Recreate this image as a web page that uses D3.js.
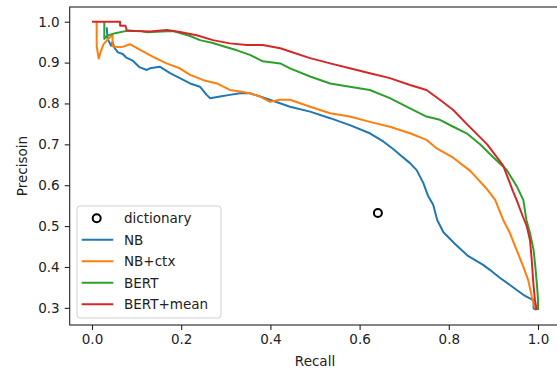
<!DOCTYPE html>
<html lang="en">
  <head>
    <meta charset="utf-8">
    <title>Precision Recall</title>
    <script src="https://d3js.org/d3.v7.min.js"></script>
    <style>
      body { margin: 0; background: #fff; }
      svg { display: block; font-family: "DejaVu Sans", sans-serif; }
    </style>
  </head>
  <body>
    <script>
    // values, [recall, precision]
    const nb = [[0.033,0.986],[0.035,0.958],[0.043,0.941],[0.046,0.95],[0.05,0.937],[0.058,0.925],[0.069,0.921],
      [0.076,0.913],[0.091,0.905],[0.106,0.889],[0.123,0.882],[0.13,0.886],[0.152,0.89],[0.175,0.874],[0.197,0.862],
      [0.22,0.849],[0.242,0.841],[0.257,0.821],[0.265,0.813],[0.287,0.817],[0.309,0.821],[0.332,0.825],[0.354,0.825],
      [0.377,0.817],[0.407,0.806],[0.444,0.792],[0.489,0.78],[0.534,0.764],[0.578,0.747],[0.623,0.727],[0.653,0.707],
      [0.676,0.688],[0.691,0.674],[0.713,0.654],[0.728,0.637],[0.743,0.605],[0.753,0.575],[0.765,0.552],[0.774,0.515],
      [0.788,0.485],[0.814,0.456],[0.843,0.427],[0.877,0.405],[0.892,0.393],[0.915,0.373],[0.937,0.356],[0.967,0.332],
      [0.99,0.318],[0.99,0.299],[0.997,0.295]]
    const nbCtx = [[0.0105,1.0],[0.0105,0.94],[0.015,0.91],[0.02,0.928],[0.026,0.945],[0.034,0.955],[0.046,0.968],
      [0.046,0.94],[0.058,0.938],[0.07,0.939],[0.085,0.945],[0.108,0.931],[0.137,0.914],[0.167,0.898],[0.197,0.886],
      [0.22,0.87],[0.25,0.857],[0.28,0.849],[0.309,0.833],[0.332,0.829],[0.354,0.825],[0.377,0.817],[0.399,0.804],
      [0.422,0.809],[0.444,0.809],[0.489,0.792],[0.534,0.776],[0.578,0.768],[0.623,0.755],[0.668,0.743],[0.713,0.727],
      [0.75,0.711],[0.773,0.69],[0.809,0.668],[0.848,0.635],[0.886,0.59],[0.904,0.564],[0.922,0.515],[0.937,0.483],
      [0.952,0.442],[0.967,0.401],[0.978,0.368],[0.986,0.328],[0.993,0.299]]
    const bert = [[0.0276,1.0],[0.0276,0.958],[0.034,0.966],[0.052,0.972],[0.075,0.977],[0.11,0.977],[0.123,0.974],
      [0.182,0.977],[0.22,0.965],[0.242,0.955],[0.271,0.948],[0.3,0.938],[0.325,0.93],[0.354,0.919],[0.383,0.903],
      [0.422,0.898],[0.444,0.886],[0.489,0.866],[0.534,0.849],[0.578,0.841],[0.623,0.833],[0.668,0.813],[0.713,0.788],
      [0.75,0.768],[0.78,0.76],[0.81,0.743],[0.84,0.727],[0.87,0.7],[0.899,0.669],[0.93,0.637],[0.953,0.596],
      [0.967,0.564],[0.974,0.515],[0.982,0.483],[0.99,0.442],[0.994,0.401],[0.998,0.352],[1.0,0.32],[1.0,0.295]]
    const bertMean = [[0,1.0],[0.063,1.0],[0.063,0.99],[0.075,0.99],[0.078,0.979],[0.096,0.977],[0.13,0.976],
      [0.168,0.98],[0.197,0.975],[0.235,0.967],[0.271,0.955],[0.309,0.947],[0.347,0.943],[0.383,0.943],[0.422,0.935],
      [0.444,0.927],[0.489,0.911],[0.534,0.898],[0.578,0.886],[0.623,0.874],[0.668,0.862],[0.713,0.845],[0.75,0.833],
      [0.78,0.809],[0.81,0.784],[0.84,0.75],[0.886,0.7],[0.922,0.648],[0.944,0.585],[0.952,0.564],[0.963,0.532],
      [0.975,0.499],[0.982,0.466],[0.986,0.417],[0.989,0.368],[0.993,0.32],[0.997,0.295]]
    const dictionary = [[0.641, 0.532]]

    const seriesNames = ["NB", "NB+ctx", "BERT", "BERT+mean"]
    const seriesData = [nb, nbCtx, bert, bertMean]
    const seriesColors = ["#1f77b4", "#ff7f0e", "#2ca02c", "#d62728"]
    const xTicks = [0, 0.2, 0.4, 0.6, 0.8, 1.0]
    const yTicks = [0.3, 0.4, 0.5, 0.6, 0.7, 0.8, 0.9, 1.0]

    const measurements = {
      width: 557,
      height: 370,
      left: 69.7,
      right: 560.3,
      top: 7,
      bottom: 325
    }

    const svgContainer = d3.select('body').append('svg')
      .attr('width', measurements.width)
      .attr('height', measurements.height)

    const scaleX = d3.scaleLinear()
      .domain([-0.05, 1.05])
      .range([measurements.left, measurements.right])

    const scaleY = d3.scaleLinear()
      .domain([0.258, 1.036])
      .range([measurements.bottom, measurements.top])

    const line = d3.line()
      .x(d => scaleX(d[0]))
      .y(d => scaleY(d[1]))

    // curves
    seriesData.forEach((data, i) => {
      svgContainer.append('path')
        .datum(data)
        .attr('d', line)
        .attr('fill', 'none')
        .attr('stroke', seriesColors[i])
        .attr('stroke-width', 2)
        .attr('stroke-linejoin', 'round')
    })

    svgContainer.selectAll('.dict')
      .data(dictionary)
      .enter()
      .append('circle')
        .attr('class', 'dict')
        .attr('cx', d => scaleX(d[0]))
        .attr('cy', d => scaleY(d[1]))
        .attr('r', 4)
        .attr('fill', 'none')
        .attr('stroke', '#000')
        .attr('stroke-width', 2)

    // axes
    const xAxis = d3.axisBottom(scaleX)
      .tickValues(xTicks)
      .tickFormat(d3.format('.1f'))
      .tickSize(5)
      .tickPadding(4)
    const yAxis = d3.axisLeft(scaleY)
      .tickValues(yTicks)
      .tickFormat(d3.format('.1f'))
      .tickSize(5)
      .tickPadding(5)

    const gx = svgContainer.append('g')
      .attr('transform', `translate(0,${measurements.bottom})`)
      .call(xAxis)
    const gy = svgContainer.append('g')
      .attr('transform', `translate(${measurements.left},0)`)
      .call(yAxis)

    ;[gx, gy].forEach(g => {
      g.select('.domain').remove()
      g.selectAll('line').attr('stroke', '#222').attr('stroke-width', 1.1)
      g.selectAll('text')
        .attr('fill', '#222')
        .style('font-family', '"DejaVu Sans", sans-serif')
        .style('font-size', '13.5px')
    })

    // spines
    svgContainer.append('rect')
      .attr('x', measurements.left)
      .attr('y', measurements.top)
      .attr('width', measurements.right - measurements.left)
      .attr('height', measurements.bottom - measurements.top)
      .attr('fill', 'none')
      .attr('stroke', '#222')
      .attr('stroke-width', 1.1)

    // axis labels
    svgContainer.append('text')
      .attr('x', (measurements.left + measurements.right) / 2)
      .attr('y', 366)
      .attr('text-anchor', 'middle')
      .attr('fill', '#222')
      .style('font-size', '13.5px')
      .text('Recall')

    svgContainer.append('text')
      .attr('transform', `translate(27,${(measurements.top + measurements.bottom) / 2}) rotate(-90)`)
      .attr('text-anchor', 'middle')
      .attr('fill', '#222')
      .style('font-size', '13.5px')
      .text('Precisoin')

    // legend
    const legend = svgContainer.append('g')
      .attr('transform', 'translate(77,206)')

    legend.append('rect')
      .attr('width', 144)
      .attr('height', 112)
      .attr('rx', 3)
      .attr('fill', '#fff')
      .attr('fill-opacity', 0.8)
      .attr('stroke', '#d0d0d0')
      .attr('stroke-width', 1)

    const legendY = i => 12.3 + i * 21.5

    legend.append('circle')
      .attr('cx', 19.7)
      .attr('cy', legendY(0))
      .attr('r', 4)
      .attr('fill', 'none')
      .attr('stroke', '#000')
      .attr('stroke-width', 2)
    legend.append('text')
      .attr('x', 47)
      .attr('y', legendY(0))
      .attr('dy', '0.35em')
      .attr('fill', '#222')
      .style('font-size', '13.5px')
      .text('dictionary')

    seriesNames.forEach((name, i) => {
      legend.append('line')
        .attr('x1', 4.7)
        .attr('x2', 36.3)
        .attr('y1', legendY(i + 1))
        .attr('y2', legendY(i + 1))
        .attr('stroke', seriesColors[i])
        .attr('stroke-width', 2)
      legend.append('text')
        .attr('x', 47)
        .attr('y', legendY(i + 1))
        .attr('dy', '0.35em')
        .attr('fill', '#222')
        .style('font-size', '13.5px')
        .text(name)
    })
    </script>
  </body>
</html>
